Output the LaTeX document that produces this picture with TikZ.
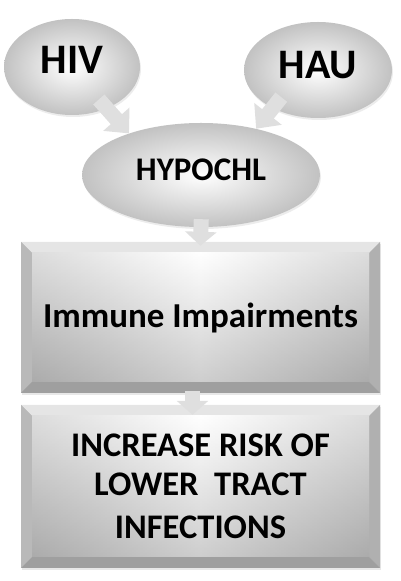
\documentclass[tikz,border=0pt]{standalone}
\usepackage{fontspec}
\setmainfont{Carlito}
\usetikzlibrary{shapes.geometric,arrows.meta,shadows,positioning}

\tikzset{
  bubble/.style={ellipse, inner sep=0pt, inner color=white, outer color=gray!48,
    font=\bfseries, drop shadow={opacity=0.15, shadow xshift=1pt, shadow yshift=-2pt}},
  panel/.style={rectangle, inner sep=0pt, minimum width=359pt, fill=gray!45,
    align=center,
    drop shadow={opacity=0.18, shadow xshift=1pt, shadow yshift=-2pt},
    path picture={
      \fill[gray!20] (path picture bounding box.north west) -- (path picture bounding box.north east)
        -- ([shift={(-11pt,-11pt)}]path picture bounding box.north east)
        -- ([shift={(11pt,-11pt)}]path picture bounding box.north west) -- cycle;
      \fill[gray!55] (path picture bounding box.north west) -- (path picture bounding box.south west)
        -- ([shift={(11pt,11pt)}]path picture bounding box.south west)
        -- ([shift={(11pt,-11pt)}]path picture bounding box.north west) -- cycle;
      \fill[gray!62] (path picture bounding box.north east) -- (path picture bounding box.south east)
        -- ([shift={(-11pt,11pt)}]path picture bounding box.south east)
        -- ([shift={(-11pt,-11pt)}]path picture bounding box.north east) -- cycle;
      \fill[gray!75] (path picture bounding box.south west) -- (path picture bounding box.south east)
        -- ([shift={(-11pt,11pt)}]path picture bounding box.south east)
        -- ([shift={(11pt,11pt)}]path picture bounding box.south west) -- cycle;
      \shade[top color=white, bottom color=gray!70]
        ([shift={(11pt,11pt)}]path picture bounding box.south west)
        rectangle ([shift={(-11pt,-11pt)}]path picture bounding box.north east);
      \shade[left color=gray!60, right color=gray!60, middle color=white, opacity=0.45]
        ([shift={(11pt,11pt)}]path picture bounding box.south west)
        rectangle ([shift={(-11pt,-11pt)}]path picture bounding box.north east);
    }},
  blockarrow/.style={line width=15pt, gray!25, -{Triangle[length=19pt,width=34pt]}},
  droparrow/.style={line width=15pt, gray!25, -{Triangle[length=14pt,width=31pt]}}
}

\begin{document}
\begin{tikzpicture}[x=1pt,y=1pt]
  \useasboundingbox (0,0) rectangle (400,581);
  % ovals
  \node[bubble, minimum width=136pt, minimum height=96pt] (hiv) at (72,514)
    {\fontsize{42}{42}\selectfont\raisebox{14pt}{HIV}};
  \node[bubble, minimum width=148pt, minimum height=96pt] (hau) at (318,511)
    {\fontsize{42}{42}\selectfont\raisebox{10pt}{HAU}};
  \node[bubble, minimum width=238pt, minimum height=104pt] (hypo) at (201,406)
    {\fontsize{33}{33}\selectfont\raisebox{11pt}{HYPOCHL}};
  % boxes
  \node[panel, minimum height=151pt, font=\bfseries\fontsize{35}{40}\selectfont]
    (immune) at (200.5,263.5) {Immune Impairments};
  \node[panel, minimum height=163pt, font=\bfseries\fontsize{34.5}{43}\selectfont]
    (risk) at (200.5,94.5) {\raisebox{-4pt}{INCREASE RISK OF}\\ LOWER\ \ TRACT\\ INFECTIONS};
  % arrows
  \draw[blockarrow, shorten <=-12pt] (hiv.-50) -- (hypo.150);
  \draw[blockarrow, shorten <=-14pt] (hau.220) -- (hypo.40);
  \draw[droparrow, shorten <=-8pt, shorten >=-4pt] (hypo.south) -- (immune.north);
  \draw[droparrow, shorten <=-2pt, shorten >=-10pt] ([xshift=-8pt]immune.south) -- ([xshift=-8pt]risk.north);
\end{tikzpicture}
\end{document}
